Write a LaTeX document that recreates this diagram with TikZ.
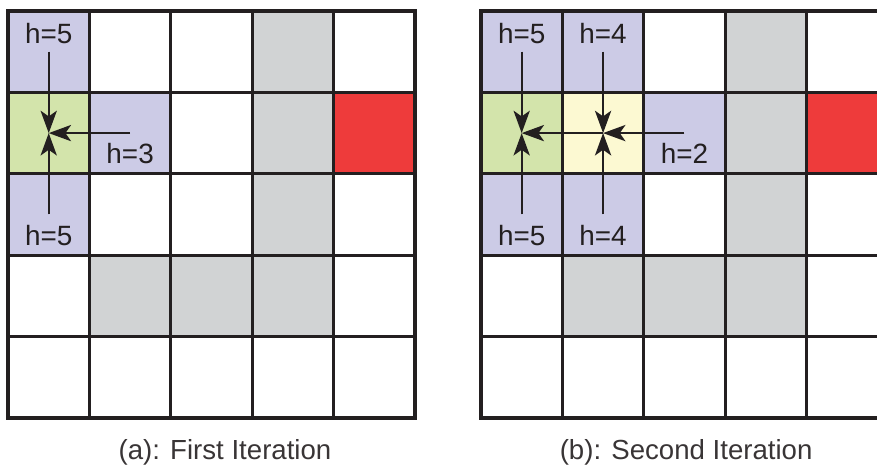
\documentclass[tikz,border=0pt]{standalone}
\usepackage{fontspec}
\setmainfont{Liberation Sans}
\usepackage{xcolor}
\definecolor{lineDark}{RGB}{35, 31, 32}
\definecolor{openCell}{RGB}{204, 203, 230}
\definecolor{startCell}{RGB}{211, 228, 171}
\definecolor{closedCell}{RGB}{252, 249, 210}
\definecolor{wallCell}{RGB}{209, 211, 212}
\definecolor{goalCell}{RGB}{238, 59, 59}
\usepackage{tikz}
\usetikzlibrary{
    arrows.meta,
    positioning
}

\begin{document}
\begin{tikzpicture}[
    cellBox/.style={
        rectangle, minimum size=2cm, inner sep=0pt, outer sep=0pt,
        draw=lineDark, line width=2.3pt, miter limit=4
    },
    hLabel/.style={
        font=\fontsize{19.5}{23}\selectfont, text=lineDark,
        inner sep=0pt, anchor=base
    },
    captionText/.style={
        font=\fontsize{19.3}{23}\selectfont, text=lineDark!90,
        inner sep=0pt, anchor=base
    },
    stepArrow/.style={
        -{Stealth[length=0.55cm, width=0.4cm, inset=0.14cm]},
        line width=1.25pt, draw=lineDark
    }
]

    \clip (-0.197, -1.155) rectangle (21.35, 10.27);

    % Grid (a)
    \foreach \col [count=\c] in {openCell, white, white, wallCell, white}
        \node[cellBox, fill=\col] (a1\c) at (2*\c-1, 9) {};
    \foreach \col [count=\c] in {startCell, openCell, white, wallCell, goalCell}
        \node[cellBox, fill=\col] (a2\c) at (2*\c-1, 7) {};
    \foreach \col [count=\c] in {openCell, white, white, wallCell, white}
        \node[cellBox, fill=\col] (a3\c) at (2*\c-1, 5) {};
    \foreach \col [count=\c] in {white, wallCell, wallCell, wallCell, white}
        \node[cellBox, fill=\col] (a4\c) at (2*\c-1, 3) {};
    \foreach \col [count=\c] in {white, white, white, white, white}
        \node[cellBox, fill=\col] (a5\c) at (2*\c-1, 1) {};

    % Grid (b)
    \foreach \col [count=\c] in {openCell, openCell, white, wallCell, white}
        \node[cellBox, fill=\col] (b1\c) at (10.62+2*\c, 9) {};
    \foreach \col [count=\c] in {startCell, closedCell, openCell, wallCell, goalCell}
        \node[cellBox, fill=\col] (b2\c) at (10.62+2*\c, 7) {};
    \foreach \col [count=\c] in {openCell, openCell, white, wallCell, white}
        \node[cellBox, fill=\col] (b3\c) at (10.62+2*\c, 5) {};
    \foreach \col [count=\c] in {white, wallCell, wallCell, wallCell, white}
        \node[cellBox, fill=\col] (b4\c) at (10.62+2*\c, 3) {};
    \foreach \col [count=\c] in {white, white, white, white, white}
        \node[cellBox, fill=\col] (b5\c) at (10.62+2*\c, 1) {};

    % Labels
    \node[hLabel] (aTop) at ([yshift=-0.79cm]a11.north) {h=5};
    \node[hLabel] (aRight) at ([yshift=0.25cm]a22.south) {h=3};
    \node[hLabel] (aBottom) at ([yshift=0.25cm]a31.south) {h=5};

    \node[hLabel] (bTopA) at ([yshift=-0.79cm]b11.north) {h=5};
    \node[hLabel] (bTopB) at ([yshift=-0.79cm]b12.north) {h=4};
    \node[hLabel] (bRight) at ([yshift=0.25cm]b23.south) {h=2};
    \node[hLabel] (bBottomA) at ([yshift=0.25cm]b31.south) {h=5};
    \node[hLabel] (bBottomB) at ([yshift=0.25cm]b32.south) {h=4};

    \node[captionText] (capA) at (5.33, -1.03) {(a): First Iteration};
    \node[captionText] (capB) at (16.66, -1.03) {(b): Second Iteration};

    % Connections
    \draw[stepArrow] (a11.center) -- (a21.center);
    \draw[stepArrow] (a31.center) -- (a21.center);
    \draw[stepArrow] (a22.center) -- (a21.center);

    \draw[stepArrow] (b11.center) -- (b21.center);
    \draw[stepArrow] (b31.center) -- (b21.center);
    \draw[stepArrow] (b12.center) -- (b22.center);
    \draw[stepArrow] (b32.center) -- (b22.center);
    \draw[stepArrow] (b23.center) -- (b22.center);
    \draw[stepArrow] (b22.center) -- (b21.center);

\end{tikzpicture}
\end{document}
